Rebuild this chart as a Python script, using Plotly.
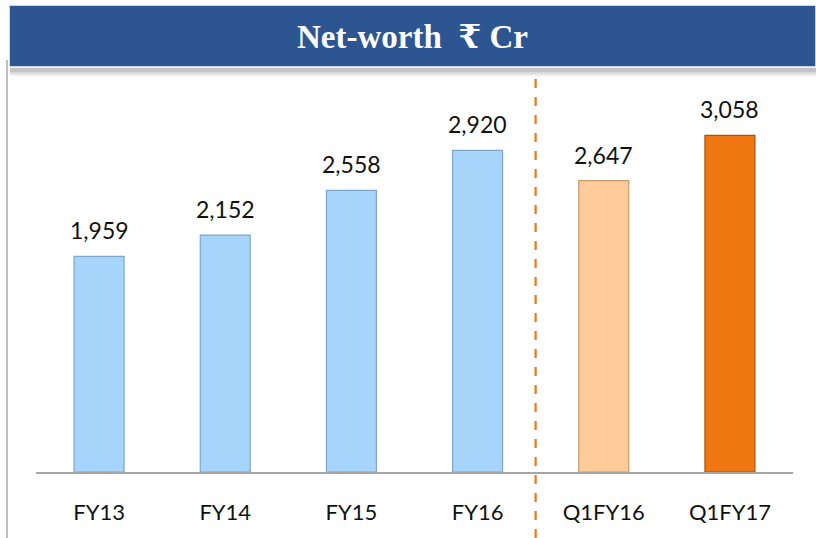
import plotly.graph_objects as go

# =========================
# data
# =========================
categories = ["FY13", "FY14", "FY15", "FY16", "Q1FY16", "Q1FY17"]
networth = [1959, 2152, 2558, 2920, 2647, 3058]
bar_colors = ["#A6D4FA", "#A6D4FA", "#A6D4FA", "#A6D4FA", "#FFCB98", "#F07612"]
edge_colors = ["#7EA6C8", "#7EA6C8", "#7EA6C8", "#7EA6C8", "#C99B6C", "#A9520C"]
title_text = "Net-worth  ₹ Cr"

W, H = 816, 538
L, R, T, B = 36, 23, 80, 66

def px_x(px):
    return (px - L) / (W - L - R)

def px_y(py):
    return (H - B - py) / (H - T - B)

fig = go.Figure()

fig.add_trace(go.Bar(
    x=categories,
    y=networth,
    marker=dict(color=bar_colors, line=dict(color=edge_colors, width=1.2)),
    hoverinfo="skip",
))

# value labels above bars
annotations = []
for c, v in zip(categories, networth):
    annotations.append(dict(
        x=c, y=v, xref="x", yref="y",
        text=f"{v:,}",
        showarrow=False,
        yanchor="bottom",
        yshift=10,
        font=dict(family="Lato, Open Sans, sans-serif", size=23, color="#111111"),
    ))

# title banner
annotations.append(dict(
    x=(px_x(9) + px_x(816)) / 2, y=px_y(37),
    xref="paper", yref="paper",
    text=f"<b>{title_text}</b>",
    showarrow=False,
    xanchor="center", yanchor="middle",
    font=dict(family="Liberation Serif, DejaVu Serif, serif", size=33, color="white"),
))

shapes = []
# soft shadow under banner
for off, col in [(9, "#EDEDED"), (7, "#DADADA"), (5, "#C4C4C4")]:
    shapes.append(dict(type="rect", xref="paper", yref="paper",
                       x0=px_x(10), x1=px_x(818), y0=px_y(67 + off), y1=px_y(8),
                       fillcolor=col, line=dict(width=0), layer="below"))
shapes += [
    # banner
    dict(type="rect", xref="paper", yref="paper",
         x0=px_x(9), x1=px_x(816), y0=px_y(67), y1=px_y(5),
         fillcolor="#2C5591", line=dict(color="white", width=1.5), layer="below"),
    # left frame line
    dict(type="line", xref="paper", yref="paper",
         x0=px_x(7), x1=px_x(7), y0=px_y(538), y1=px_y(60),
         line=dict(color="#BFBFBF", width=2)),
    # separator between annual and quarterly
    dict(type="line", xref="x", yref="paper",
         x0=3.46, x1=3.46, y0=px_y(538), y1=px_y(78),
         line=dict(color="#F07612", width=2.2, dash="dash")),
]

fig.update_layout(
    width=W, height=H,
    margin=dict(l=L, r=R, t=T, b=B),
    paper_bgcolor="white",
    plot_bgcolor="white",
    bargap=0.604,
    showlegend=False,
    annotations=annotations,
    shapes=shapes,
    xaxis=dict(
        type="category",
        showline=True, linecolor="#A6A6A6", linewidth=2,
        showgrid=False, zeroline=False,
        ticks="", ticklabelstandoff=20,
        tickfont=dict(family="Lato, Open Sans, sans-serif", size=22, color="#111111"),
    ),
    yaxis=dict(
        range=[0, 3560],
        visible=False, showgrid=False, zeroline=False,
    ),
)

# page body has a default 8px margin; drop it so the figure sits at the window corner
fig.write_html("out.html", config={"displayModeBar": False},
               post_script="document.body.style.margin='0px';")
